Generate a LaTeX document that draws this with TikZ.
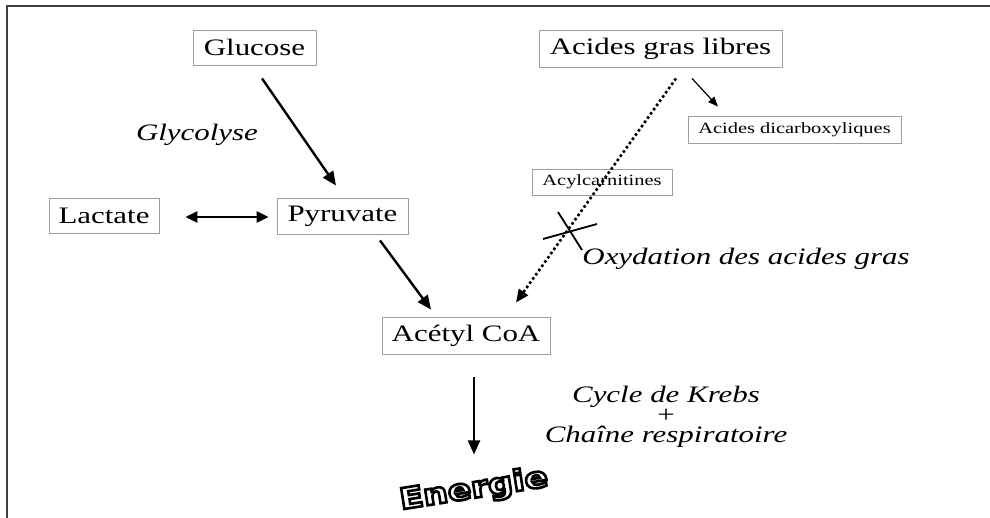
\documentclass[tikz,border=0pt]{standalone}
\usepackage{fontspec}
\setmainfont{Liberation Serif}[FakeStretch=1.31]
\newfontfamily\wordart{DejaVu Sans}[FakeStretch=1.2,BoldFeatures={FakeBold=9}]
\usetikzlibrary{arrows.meta,calc}
\newcommand\outlined[1]{{\special{pdf:bcolor [1] [0]}#1\special{pdf:ecolor}}}
\begin{document}
\begin{tikzpicture}[x=1pt,y=-1pt,
  bigbox/.style={draw=gray!75,line width=0.9pt,inner sep=0pt,align=center,
    font=\fontsize{23.6}{26}\selectfont},
  smallbox/.style={draw=gray!75,line width=0.8pt,inner sep=0pt,align=center,
    font=\fontsize{15.6}{18}\selectfont},
  lbl/.style={inner sep=0pt,font=\fontsize{23.6}{20}\selectfont\itshape},
  mainarrow/.style={line width=2.4pt,-{Triangle[length=14pt,width=12pt]}},
  thinarrow/.style={line width=1.2pt,-{Triangle[length=10pt,width=8pt]}},
  dotarrow/.style={line width=2.6pt,dash pattern=on 2.6pt off 2.6pt,
    -{Triangle[length=13pt,width=11pt]}}]
\useasboundingbox (0,0) rectangle (990,518);
\fill[white] (0,0) rectangle (990,518);
% frame
\draw[line width=2pt,black!75] (7,518) -- (7,6) -- (990,6);
% nodes
\node[bigbox,minimum width=123pt,minimum height=35pt] (glu) at (254.5,47.5) {Glucose};
\node[bigbox,minimum width=243pt,minimum height=37pt] (agl) at (660.5,48.5) {Acides gras libres};
\node[bigbox,minimum width=110pt,minimum height=35pt] (lac) at (104,215.5) {Lactate};
\node[bigbox,minimum width=131pt,minimum height=36pt] (pyr) at (342.5,216) {Pyruvate};
\node[bigbox,minimum width=168pt,minimum height=37pt] (aco) at (466,335.5) {Acétyl CoA};
\node[smallbox,minimum width=213pt,minimum height=27pt] (adc) at (794.5,129.5) {Acides dicarboxyliques};
\node[smallbox,minimum width=140pt,minimum height=26pt] (acy) at (602,182) {Acylcarnitines};
\node[inner sep=0pt,rotate=9,font=\wordart\bfseries\fontsize{29}{32}\selectfont] (en) at (474,490)
  {\outlined{Energie}};
% labels
\node[lbl,anchor=base] (glyc) at (197,141) {Glycolyse};
\node[lbl,anchor=base] (oxy) at (746,265) {Oxydation des acides gras};
\node[lbl,anchor=base,align=center,font=\fontsize{23.6}{20}\selectfont\itshape] (krebs) at (666,442)
  {Cycle de Krebs\\ \upshape+\\ Chaîne respiratoire};
% connectors
\draw[mainarrow] ($(glu.south)+(7.5,13)$) -- ($(pyr.north)+(-6.5,-12)$);
\draw[mainarrow] ($(pyr.south)+(37.5,6)$) -- ($(aco.north)+(-35,-7)$);
\draw[line width=2.4pt,{Triangle[length=12pt,width=11pt]}-{Triangle[length=12pt,width=11pt]}]
  ($(lac.east)+(26,1.5)$) -- ($(pyr.west)+(-8,1)$);
\draw[dotarrow] ($(agl.south)+(15.5,11)$) -- ($(aco.north)+(50,-14)$);
\draw[thinarrow] ($(agl.south)+(31.5,11)$) -- ($(adc.north)+(-76.5,-9)$);
\draw[mainarrow] ($(aco.south)+(8,23)$) -- ($(aco.south)+(8,100)$);
% cross on the dotted path
\coordinate (x) at (570,231);
\draw[line width=1.8pt] ($(x)+(-12,-19)$) -- ($(x)+(12,19)$);
\draw[line width=1.8pt] ($(x)+(-27,8)$) -- ($(x)+(27,-7)$);
\end{tikzpicture}
\end{document}
